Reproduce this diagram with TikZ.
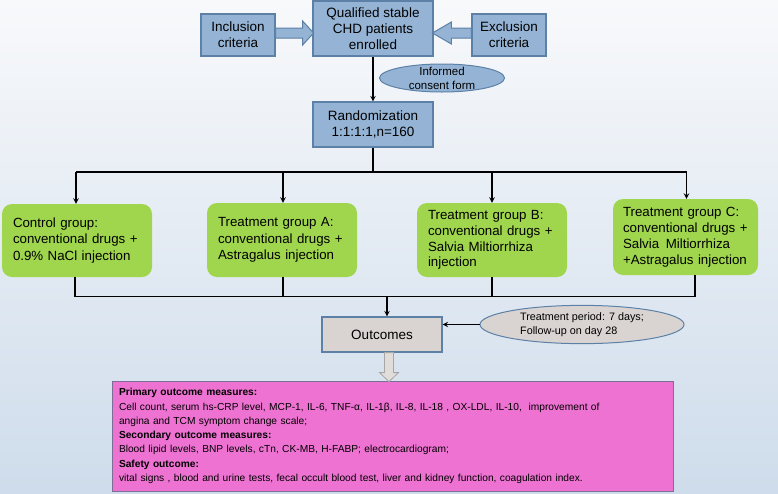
\documentclass[tikz,border=0pt]{standalone}
\usepackage{fontspec}
\setmainfont{Liberation Sans}
\usetikzlibrary{shapes.geometric}
\definecolor{boxblue}{RGB}{149,180,213}
\definecolor{edgeblue}{RGB}{92,128,166}
\definecolor{groupgreen}{RGB}{160,214,78}
\definecolor{outgrey}{RGB}{217,212,210}
\definecolor{measpink}{RGB}{238,114,210}
\definecolor{pinkedge}{RGB}{125,110,150}
\definecolor{bgtop}{RGB}{248,249,251}
\definecolor{bgbottom}{RGB}{206,220,235}

\begin{document}
\begin{tikzpicture}[x=1pt, y=-1pt, >=stealth,
    bluebox/.style={draw=edgeblue, fill=boxblue, line width=1.2pt, inner sep=0pt, align=center, font=\fontsize{13.5}{16}\selectfont},
    groupbox/.style={fill=groupgreen, rounded corners=10pt, inner sep=0pt, align=left, font=\fontsize{13.3}{16.5}\selectfont},
    hollow/.style={draw=edgeblue, fill=boxblue, line width=1pt},
    link/.style={line width=1.4pt}]
    % background
    \fill [top color=bgtop, bottom color=bgbottom] (0,0) rectangle (778,493);

    % enrolment
    \node [bluebox, minimum width=74pt, minimum height=42pt] (incl) at (238,35) {Inclusion\\criteria};
    \node [bluebox, minimum width=120pt, minimum height=55pt] (qual) at (373,28.5) {Qualified stable\\CHD patients\\enrolled};
    \node [bluebox, minimum width=74pt, minimum height=42pt] (excl) at (509,35) {Exclusion\\criteria};
    \node [ellipse, draw=edgeblue, fill=boxblue, line width=1pt, inner xsep=0pt, inner ysep=-6pt, minimum width=125pt, minimum height=28pt, align=center, font=\fontsize{11.5}{14}\selectfont] (consent) at (442,78) {Informed\\consent form};
    \node [bluebox, minimum width=120pt, minimum height=45pt] (rand) at (373,124.5) {Randomization\\1:1:1:1,n=160};

    \draw [hollow] ([yshift=7pt]incl.east) -- ++(27,0) -- ++(0,-7) -- ++(11,12) -- ++(-11,12) -- ++(0,-7) -- ++(-27,0) -- cycle;
    \draw [hollow] ([yshift=7pt]excl.west) -- ++(-20,0) -- ++(0,-6) -- ++(-19,11) -- ++(19,11) -- ++(0,-6) -- ++(20,0) -- cycle;
    \draw [link, ->] (qual) -- (rand);

    % groups
    \node [groupbox, text width=128pt, minimum width=150pt, minimum height=73pt] (ctrl) at (77,240.5) {Control group:\\conventional drugs~+\\0.9\% NaCl injection};
    \node [groupbox, text width=128pt, minimum width=150pt, minimum height=74pt] (grpA) at (282,240) {Treatment group A:\\conventional drugs~+\\Astragalus injection};
    \node [groupbox, text width=128pt, minimum width=150pt, minimum height=74pt, font=\fontsize{13.3}{15.7}\selectfont] (grpB) at (492,240) {Treatment group B:\\conventional drugs~+\\Salvia Miltiorrhiza\\injection};
    \node [groupbox, text width=125pt, minimum width=145pt, minimum height=76pt, font=\fontsize{13.3}{15.9}\selectfont] (grpC) at (685.5,237) {Treatment group C:\\conventional drugs~+\\Salvia\, Miltiorrhiza\\+Astragalus injection};

    \coordinate (split) at (373,172);
    \draw [link] (rand) -- (split);
    \draw [link] ([xshift=-1pt]ctrl.north |- split) -- ([xshift=1pt]grpC.north |- split);
    \draw [link, ->] ([xshift=-1pt]ctrl.north |- split) -- ([xshift=-1pt]ctrl.north);
    \draw [link, ->] ([xshift=1pt]grpA.north |- split) -- ([xshift=1pt]grpA.north);
    \draw [link, ->] (grpB.north |- split) -- (grpB.north);
    \draw [link, ->] ([xshift=1pt]grpC.north |- split) -- ([xshift=1pt]grpC.north);

    % outcomes
    \node [draw=edgeblue, fill=outgrey, line width=1.2pt, minimum width=120pt, minimum height=35pt, font=\fontsize{13.5}{16}\selectfont] (outc) at (382,334.5) {Outcomes};
    \node [ellipse, draw=edgeblue, fill=outgrey, line width=1pt, inner xsep=0pt, inner ysep=1.5pt, minimum width=204pt, align=left, font=\fontsize{10.8}{14}\selectfont] (period) at (582,324.5) {Treatment period: 7 days;\\Follow-up on day 28};

    \coordinate (join) at (387,296.5);
    \draw [link] ([xshift=-2pt]ctrl.south) -- ([xshift=-2pt]ctrl.south |- join) -- ([xshift=9.5pt]grpC.south |- join) -- ([xshift=9.5pt]grpC.south);
    \draw [link] ([xshift=1pt]grpA.south) -- ([xshift=1pt]grpA.south |- join);
    \draw [link] (grpB.south) -- (grpB.south |- join);
    \draw [link, ->] (join) -- (join |- outc.north);
    \draw [link, ->] (period.west) -- (period.west -| outc.east);

    % measures
    \node [draw=pinkedge, fill=measpink, line width=1pt, inner xsep=7pt, inner ysep=0pt, text width=547pt, minimum height=110pt, align=left, font=\fontsize{10.2}{14.3}\selectfont] (meas) at (392.5,436) {\textbf{Primary outcome measures:}\\
        Cell count, serum hs-CRP level, MCP-1, IL-6, TNF-α, IL-1β, IL-8, IL-18 , OX-LDL, IL-10,\ \ improvement of\\
        angina and TCM symptom change scale;\\
        \textbf{Secondary outcome measures:}\\
        Blood lipid levels, BNP levels, cTn, CK-MB, H-FABP; electrocardiogram;\\
        \textbf{Safety outcome:}\\
        vital signs , blood and urine tests, fecal occult blood test, liver and kidney function, coagulation index.};
    \draw [draw=gray!70, fill=outgrey!80!white, line width=0.8pt] ([xshift=-4.5pt]outc.south -| join) ++(2,0) -- ++(0,20) -- ++(-5,0) -- ++(9.5,9) -- ++(9.5,-9) -- ++(-5,0) -- ++(0,-20) -- cycle;
\end{tikzpicture}
\end{document}
